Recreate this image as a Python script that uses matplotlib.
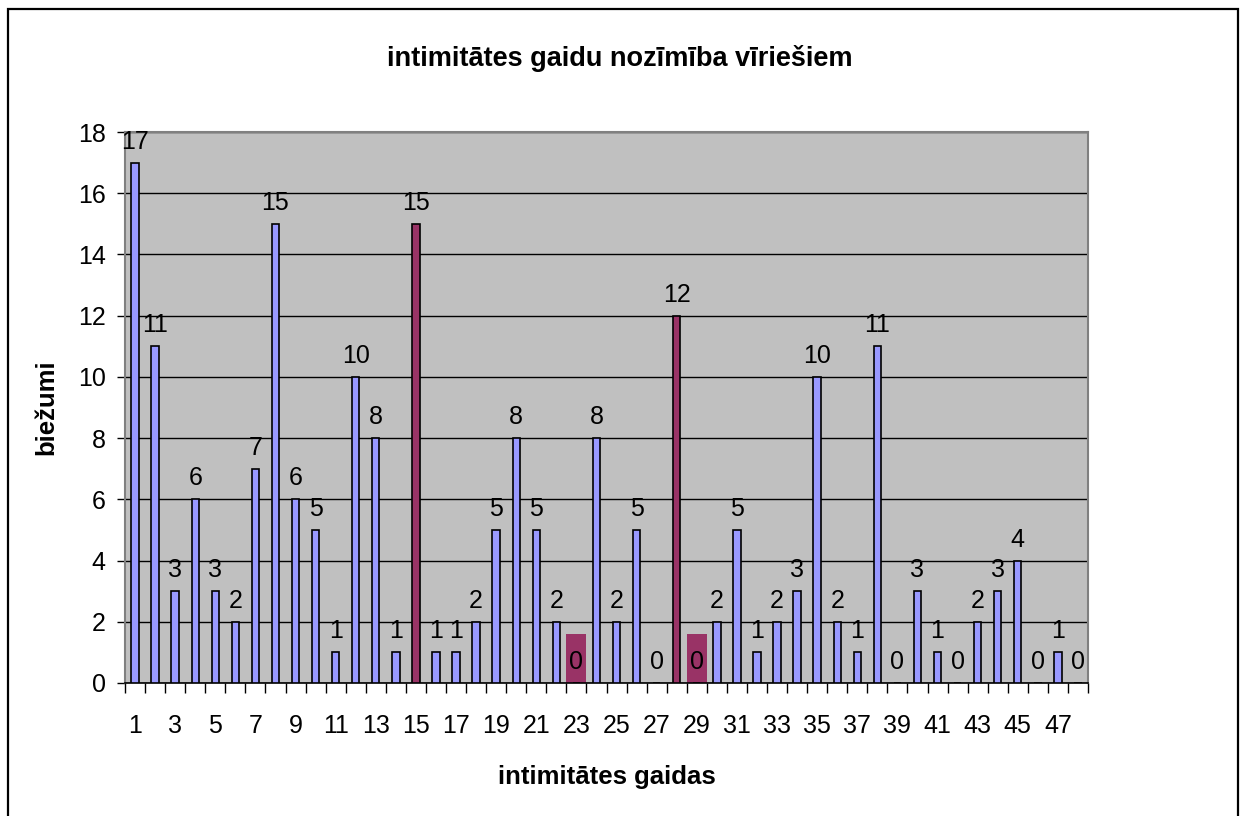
import matplotlib
matplotlib.use("Agg")
from matplotlib import pyplot as plt
from matplotlib.patches import Rectangle

plt.rcParams['font.family'] = ['Liberation Sans', 'DejaVu Sans']

# data
categories = list(range(1, 49))
values = [17, 11, 3, 6, 3, 2, 7, 15, 6, 5,
          1, 10, 8, 1, 15, 1, 1, 2, 5, 8,
          5, 2, 0, 8, 2, 5, 0, 12, 0, 2,
          5, 1, 2, 3, 10, 2, 1, 11, 0, 3,
          1, 0, 2, 3, 4, 0, 1, 0]
highlight_bars = [15, 28]      # bars filled maroon
highlight_labels = [23, 29]    # data labels with maroon background
tick_labels = [str(c) for c in categories[::2]]

BLUE = '#9999FF'
MAROON = '#993366'
BOX_H = 1.6   # height of the label background boxes

fig = plt.figure(figsize=(12.42, 8.16), dpi=100)
ax = fig.add_axes([125 / 1242, 133 / 816, 963 / 1242, 551 / 816])
ax.set_facecolor('#C0C0C0')

# outer chart border
fig.patches.append(Rectangle((8 / 1242, -0.01), 1230 / 1242, 1.01 - 9 / 816,
                             transform=fig.transFigure, fill=False,
                             edgecolor='black', linewidth=1.6, zorder=0))

colors = [MAROON if c in highlight_bars else BLUE for c in categories]
ax.bar(categories, values, width=0.37, color=colors, edgecolor='black',
       linewidth=1.2, zorder=3)

# maroon boxes behind some zero labels
ax.bar(highlight_labels, [BOX_H] * len(highlight_labels), width=1.0,
       color=MAROON, linewidth=0, zorder=2)

# data labels
for c, v in zip(categories, values):
    ax.annotate(str(v), (c, v), xytext=(0, 10), textcoords='offset points',
                ha='center', va='baseline', fontsize=18, zorder=4)

ax.set_xlim(0.5, 48.5)
ax.set_ylim(0, 18)
ax.set_yticks(range(0, 19, 2))
ax.yaxis.grid(True, color='black', linewidth=1.0, zorder=1)
ax.set_axisbelow(True)

# tick marks at category boundaries, labels on odd categories
ax.set_xticks([c + 0.5 for c in range(0, 49)])
ax.set_xticklabels([])
ax.set_xticks(categories[::2], minor=True)
ax.set_xticklabels(tick_labels, minor=True)
ax.tick_params(axis='x', which='major', direction='out', length=7, width=1, color='black')
ax.tick_params(axis='x', which='minor', length=0, pad=22, labelsize=18)
ax.tick_params(axis='y', direction='out', length=6, width=1, pad=8, labelsize=18)

for s in ['top', 'right', 'left']:
    ax.spines[s].set_color('#808080')
    ax.spines[s].set_linewidth(1.5)
ax.spines['bottom'].set_color('black')
ax.spines['bottom'].set_linewidth(1.2)

ax.set_xlabel('intimitātes gaidas', fontsize=18.5, fontweight='bold', labelpad=20)
ax.set_ylabel('biežumi', fontsize=18.5, fontweight='bold', labelpad=14)
fig.text(0.5 * (8 + 1238) / 1242 - 0.003, 1 - 58 / 816, 'intimitātes gaidu nozīmība vīriešiem',
         ha='center', va='center', fontsize=19.5, fontweight='bold')

fig.savefig('out.png', dpi=100)
